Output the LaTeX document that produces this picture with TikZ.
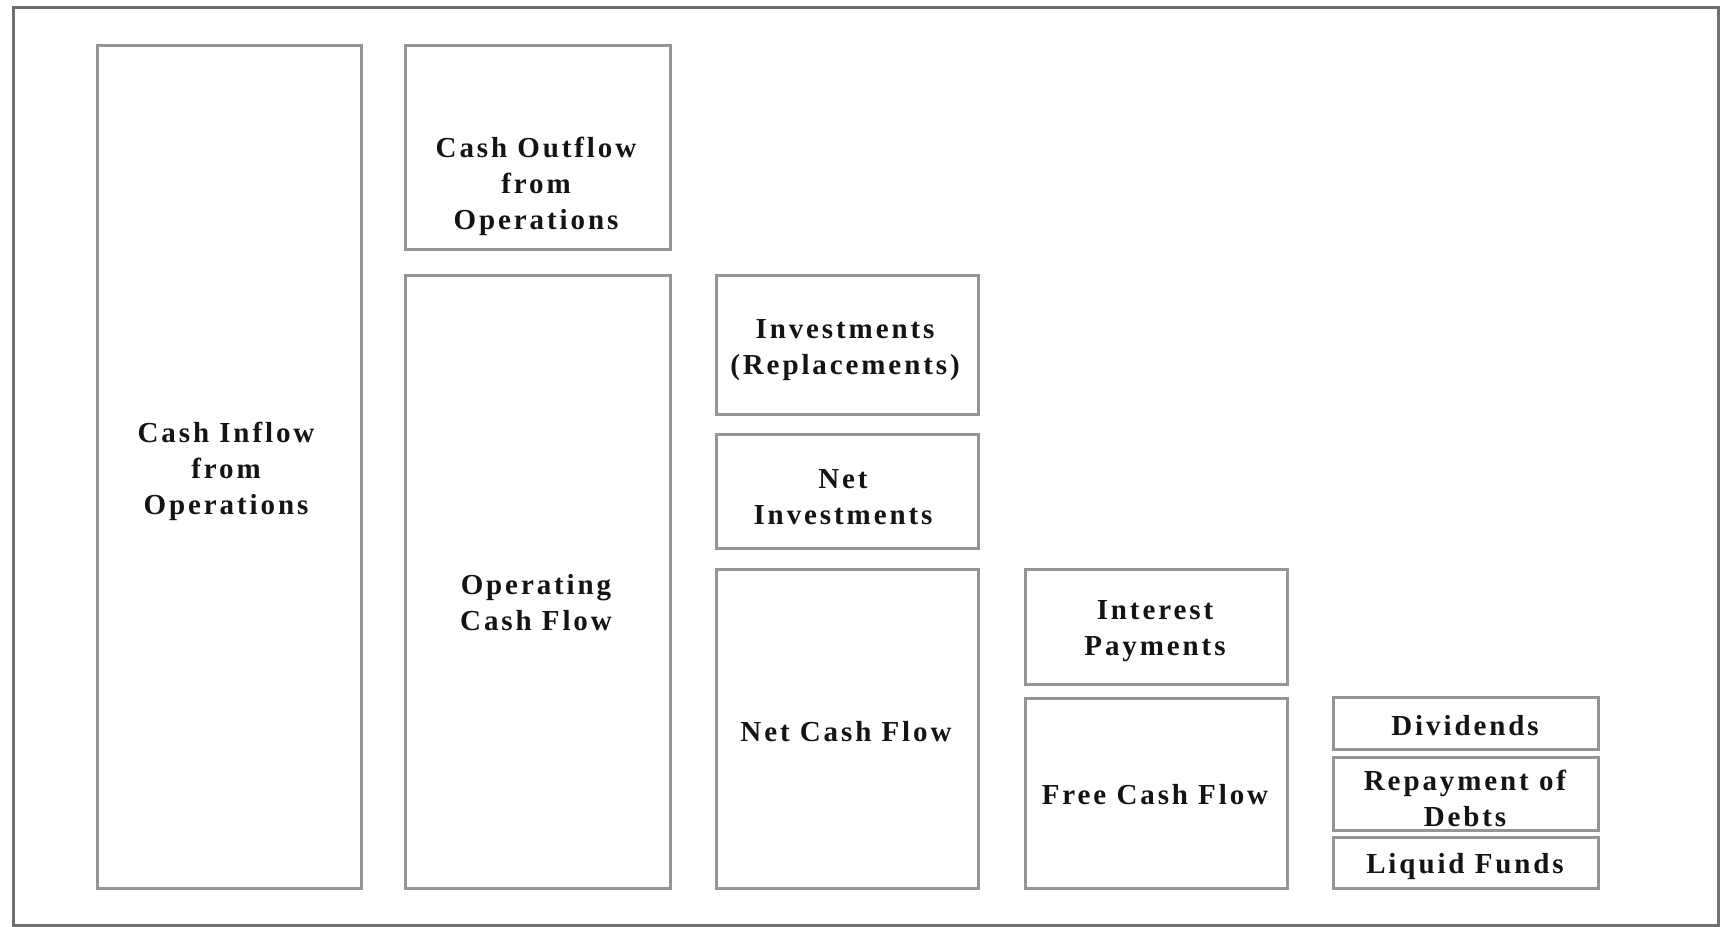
\documentclass[tikz,border=0pt]{standalone}
\usepackage{fontspec}
\setmainfont{Liberation Serif}[LetterSpace=10]
\begin{document}
\begin{tikzpicture}[x=1pt,y=-1pt,
  box/.style={draw=boxgray, line width=3pt, inner sep=0pt, fill=white},
  lbl/.style={align=center, font=\fontsize{29}{36}\selectfont\bfseries, text=txtcol, inner sep=0pt}]
\definecolor{boxgray}{HTML}{959595}
\definecolor{framegray}{HTML}{707070}
\definecolor{txtcol}{HTML}{141414}
\useasboundingbox (0,0) rectangle (1723,926);
\draw[draw=framegray, line width=3pt] (13,7) rectangle (1718,925);
% boxes
\node[box, minimum width=264pt, minimum height=843pt] (cin) at (229,466.5) {};
\node[box, minimum width=265pt, minimum height=204pt] (cout) at (537.5,147) {};
\node[box, minimum width=265pt, minimum height=613pt] (ocf) at (537.5,581.5) {};
\node[box, minimum width=262pt, minimum height=139pt] (inv) at (847,344.5) {};
\node[box, minimum width=262pt, minimum height=114pt] (ninv) at (847,491) {};
\node[box, minimum width=262pt, minimum height=319pt] (ncf) at (847,728.5) {};
\node[box, minimum width=262pt, minimum height=115pt] (int) at (1156,626.5) {};
\node[box, minimum width=262pt, minimum height=190pt] (fcf) at (1156,793) {};
\node[box, minimum width=265pt, minimum height=52pt] (div) at (1465.5,723) {};
\node[box, minimum width=265pt, minimum height=73pt] (rep) at (1465.5,793.5) {};
\node[box, minimum width=265pt, minimum height=51pt] (liq) at (1465.5,862.5) {};
% texts
\node[lbl] (tcin) at (226,471) {Cash Inflow\\from\\Operations};
\node[lbl] (tcout) at (536,186) {Cash Outflow\\from\\Operations};
\node[lbl] (tocf) at (536,603) {Operating\\Cash Flow};
\node[lbl] (tinv) at (845,350) {Investments\\(Replacements)};
\node[lbl] (tninv) at (843,497) {Net\\Investments};
\node[lbl] (tncf) at (846,732) {Net Cash Flow};
\node[lbl] (tint) at (1155,631) {Interest\\Payments};
\node[lbl] (tfcf) at (1155,795) {Free Cash Flow};
\node[lbl] (tdiv) at (1465,726) {Dividends};
\node[lbl] (trep) at (1465,798) {Repayment of\\Debts};
\node[lbl] (tliq) at (1465,867) {Liquid Funds};
\end{tikzpicture}
\end{document}
